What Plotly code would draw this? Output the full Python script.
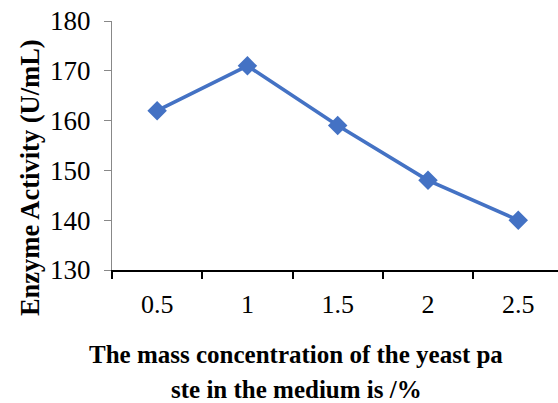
import plotly.graph_objects as go

# Yeast paste mass concentration (%) and measured enzyme activity (U/mL)
concentration = ["0.5", "1", "1.5", "2", "2.5"]
activity = [162, 171, 159, 148, 140]

y_ticks = [130, 140, 150, 160, 170, 180]

FONT = "Liberation Serif, Times New Roman, serif"
BLUE = "#4472C4"

fig = go.Figure()
fig.add_trace(go.Scatter(
    x=concentration,
    y=activity,
    mode="lines+markers",
    line=dict(color=BLUE, width=3.6),
    marker=dict(symbol="diamond", size=15, color=BLUE),
    showlegend=False,
))

fig.update_layout(
    width=558,
    height=403,
    margin=dict(l=112, r=0, t=21, b=133),
    paper_bgcolor="white",
    plot_bgcolor="white",
    font=dict(family=FONT, color="black"),
    xaxis=dict(
        type="category",
        range=[-0.5, 4.44],
        tickson="boundaries",
        ticks="outside",
        ticklen=7,
        tickwidth=1.5,
        tickcolor="black",
        showline=True,
        linecolor="black",
        linewidth=1.5,
        showgrid=False,
        zeroline=False,
        tickfont=dict(size=26, family=FONT),
        ticklabelstandoff=10,
    ),
    yaxis=dict(
        range=[130, 180],
        tickvals=y_ticks,
        ticks="outside",
        ticklen=7,
        tickwidth=1,
        tickcolor="#888888",
        showline=True,
        linecolor="#888888",
        linewidth=1,
        showgrid=False,
        zeroline=False,
        tickfont=dict(size=27, family=FONT),
        ticklabelstandoff=8,
    ),
    annotations=[
        dict(
            text="<b>Enzyme Activity (U/mL)</b>",
            xref="paper", yref="paper",
            x=-0.184, y=0.373,
            xanchor="center", yanchor="middle",
            textangle=-90,
            showarrow=False,
            font=dict(size=26.5, family=FONT, color="black"),
        ),
        dict(
            text="<b>The mass concentration of the yeast pa</b>",
            xref="paper", yref="paper",
            x=0.4126, y=-0.341,
            xanchor="center", yanchor="middle",
            showarrow=False,
            font=dict(size=25, family=FONT, color="black"),
        ),
        dict(
            text="<b>ste in the medium is /%</b>",
            xref="paper", yref="paper",
            x=0.4126, y=-0.478,
            xanchor="center", yanchor="middle",
            showarrow=False,
            font=dict(size=25, family=FONT, color="black"),
        ),
    ],
)

fig.write_html("out.html")
